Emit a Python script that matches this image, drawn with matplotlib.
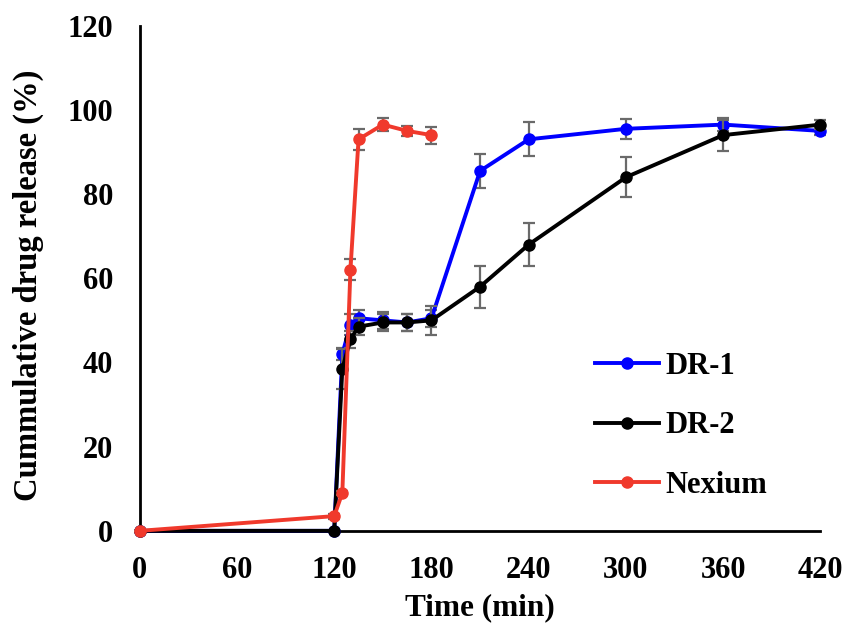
import numpy as np
from matplotlib import pyplot as plt

# time points (min)
t_dr = [0, 120, 125, 130, 135, 150, 165, 180, 210, 240, 300, 360, 420]
t_nex = [0, 120, 125, 130, 135, 150, 165, 180]

# cumulative release (%)
dr1 = [0, 0, 42, 49, 50.5, 50, 49.5, 50.5, 85.5, 93, 95.5, 96.5, 95]
dr1_err = [0, 0, 1.5, 2.5, 2, 2, 2, 2, 4, 4, 2.4, 1.5, 1]
dr2 = [0, 0, 38.5, 45.5, 48.5, 49.5, 49.5, 50, 58, 68, 84, 94, 96.5]
dr2_err = [0, 0, 4.8, 2, 2, 2, 2, 3.5, 5, 5.2, 4.7, 3.7, 1]
nexium = [0, 3.5, 9, 62, 93, 96.5, 95, 94]
nexium_err = [0, 0.6, 0.5, 2.5, 2.5, 1.5, 1.2, 2]

xticks = [0, 60, 120, 180, 240, 300, 360, 420]
yticks = [0, 20, 40, 60, 80, 100, 120]

plt.rcParams['font.family'] = ['Liberation Serif', 'DejaVu Serif']
plt.rcParams['font.weight'] = 'bold'

fig = plt.figure(figsize=(8.52, 6.26), dpi=100)
ax = fig.add_axes([0.164, 0.152, 0.799, 0.807])

series = [
    (t_dr, dr1, dr1_err, '#0000ff', 'DR-1'),
    (t_dr, dr2, dr2_err, '#000000', 'DR-2'),
    (t_nex, nexium, nexium_err, '#f0392c', 'Nexium'),
]
for i, (t, y, e, c, lab) in enumerate(series):
    ax.errorbar(t, y, yerr=e, fmt='none', ecolor='#6a6a6a', elinewidth=1.6,
                capsize=4.5, capthick=1.6, zorder=2 + i, clip_on=False)
    ax.plot(t, y, '-o', color=c, lw=2.8, ms=8, label=lab, zorder=3 + i,
            clip_on=False)

ax.set_xlim(0, 420)
ax.set_ylim(0, 120)
ax.set_xticks(xticks)
ax.set_yticks(yticks)
ax.tick_params(length=0, labelsize=22)
ax.tick_params(axis='y', pad=19)
ax.tick_params(axis='x', pad=18)
for s in ['top', 'right']:
    ax.spines[s].set_visible(False)
for s in ['left', 'bottom']:
    ax.spines[s].set_linewidth(2)

ax.set_xlabel('Time (min)', fontsize=22.5, fontweight='bold', labelpad=6)
ax.set_ylabel('Cummulative drug release (%)', fontsize=23.5, fontweight='bold')
ax.yaxis.set_label_coords(-0.14, 0.487)

ax.legend(loc='center left', bbox_to_anchor=(0.698, 0.3195),
          bbox_transform=fig.transFigure, frameon=False, borderpad=0,
          borderaxespad=0, fontsize=22, handlelength=2.1, labelspacing=1.0,
          handletextpad=0.2)

fig.savefig('out.png')
